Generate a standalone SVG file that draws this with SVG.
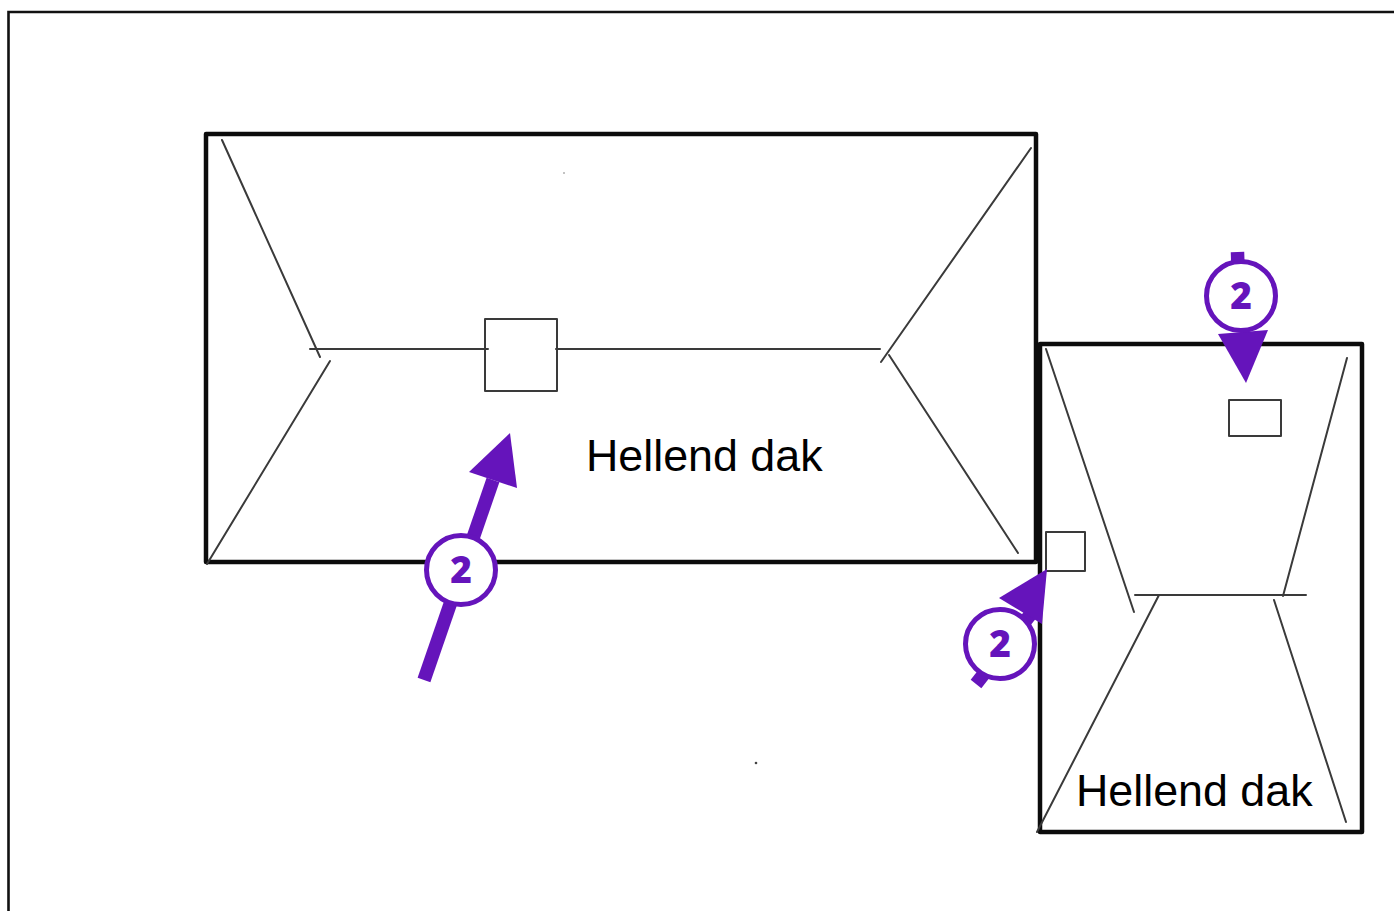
<svg xmlns="http://www.w3.org/2000/svg" width="1394" height="911" viewBox="0 0 1394 911">
<style>
.thick{fill:none;stroke:#0c0c0c;stroke-width:4.500;stroke-linejoin:round}
.thin{fill:none;stroke:#3a3a3a;stroke-width:2;stroke-linecap:round;stroke-linejoin:round}
.arrow{fill:#6514bb}
.shaft{stroke:#6514bb;stroke-width:13.500;fill:none}
.badge{fill:#fff;stroke:#6514bb;stroke-width:5}
.num{font-family:"Open Sans","DejaVu Sans",sans-serif;font-weight:800;font-size:37px;fill:#6514bb;text-anchor:middle}
.lbl{font-family:"Liberation Sans",Arial,sans-serif;font-size:44.800px;fill:#000}
</style>
<rect width="1394" height="911" fill="#fff"/>
<path d="M8.500 911V12H1394" fill="none" stroke="#111" stroke-width="2.600"/>
<g id="roof-main">
<rect class="thick" x="206" y="134" width="830" height="428"/>
<path class="thin" d="M222 140L320 357M330 361L207 564M310 349H488M556 349H880M1031 148L881 362M889 355L1018 553"/>
<rect class="thin" x="485" y="319" width="72" height="72"/>
<text class="lbl" x="586" y="471">Hellend dak</text>
</g>
<g id="roof-side">
<rect class="thick" x="1040" y="344" width="322" height="488"/>
<path class="thin" d="M1046 349L1134 612M1135 595H1306M1347 358L1283 596M1159 595L1037 832M1274 600L1346 822"/>
<rect class="thin" x="1229" y="400" width="52" height="36"/>
<rect class="thin" x="1046" y="532" width="39" height="39"/>
<text class="lbl" x="1076" y="806">Hellend dak</text>
</g>
<g id="specks"><circle cx="564" cy="173" r="0.800" fill="#777"/><circle cx="756" cy="763" r="1.300" fill="#444"/></g>
<g id="connectors">
<path class="shaft" d="M424 680L493 480"/><polygon class="arrow" points="510,433 517,488 469,472"/>
<path class="shaft" d="M976 684L1030 615"/><polygon class="arrow" points="1047,569 1042,624 999,598"/>
<path class="shaft" d="M1237.500 252L1238 270"/><polygon class="arrow" points="1246,383 1218,334 1268,330"/>
</g>
<g id="badge-1"><circle class="badge" cx="461" cy="570" r="34.500"/><text class="num" x="461" y="583">2</text></g>
<g id="badge-2"><circle class="badge" cx="1000" cy="644" r="34.500"/><text class="num" x="1000" y="657">2</text></g>
<g id="badge-3"><circle class="badge" cx="1241" cy="296" r="34.500"/><text class="num" x="1241" y="309">2</text></g>
</svg>
